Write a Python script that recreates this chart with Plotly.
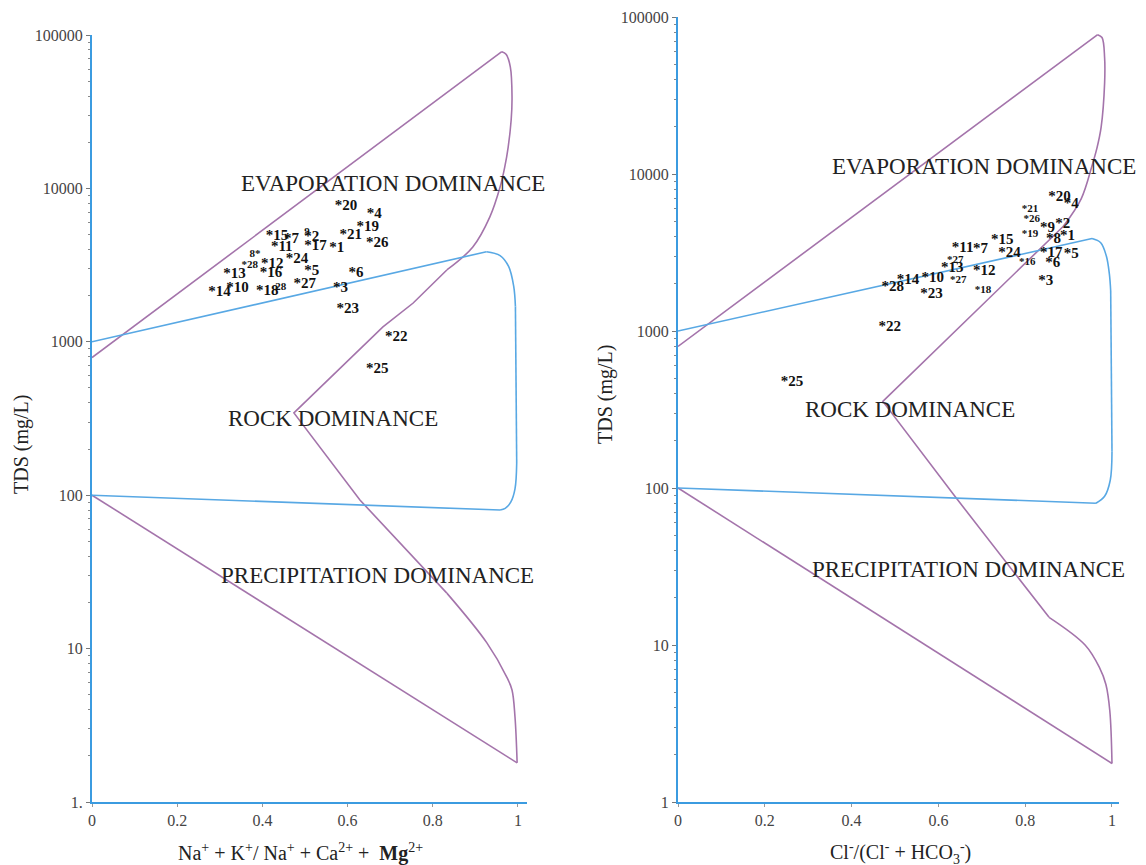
import plotly.graph_objects as go

# ---------------- data ----------------
# Left panel: Na+K/(Na+K+Ca) ratio vs TDS
left_labels = ["*20", "*4", "9", "*15", "*7", "*2", "*21", "*19", "*26", "*11", "8*", "*17", "*1",
               "*28", "*12", "*24", "*5", "*13", "*16", "*6", "*14", "*10", "*18", "28", "*27",
               "*3", "*23", "*22", "*25"]
left_x = [0.570, 0.645, 0.498, 0.408, 0.451, 0.498, 0.581, 0.621, 0.643, 0.420, 0.370, 0.498, 0.557,
          0.351, 0.397, 0.455, 0.498, 0.308, 0.394, 0.602, 0.273, 0.315, 0.385, 0.430, 0.473,
          0.566, 0.574, 0.688, 0.643]
left_tds = [7660, 6830, 5140, 4880, 4650, 4810, 4960, 5620, 4360, 4160, 3710, 4210, 4100,
            3140, 3190, 3440, 2890, 2750, 2790, 2780, 2090, 2240, 2140, 2260, 2380,
            2240, 1630, 1070, 660]
left_small = ["9", "8*", "*28", "28"]

# Right panel: Cl/(Cl+HCO3) vs TDS
right_labels = ["*20", "*4", "*21", "*26", "*19", "*9", "*2", "*8", "*1", "*17", "*5", "*6", "*3",
                "*15", "*11", "*7", "*27", "*13", "*12", "*27", "*10", "*14", "*28", "*24", "*16",
                "*18", "*23", "*22", "*25"]
right_x = [0.853, 0.889, 0.792, 0.796, 0.792, 0.834, 0.869, 0.848, 0.880, 0.834, 0.889, 0.846, 0.830,
           0.721, 0.631, 0.680, 0.620, 0.606, 0.680, 0.627, 0.561, 0.504, 0.469, 0.738, 0.786,
           0.684, 0.558, 0.462, 0.237]
right_tds = [7110, 6450, 5940, 5120, 4150, 4530, 4820, 3820, 4010, 3140, 3070, 2710, 2080,
             3790, 3380, 3340, 2820, 2500, 2400, 2100, 2180, 2100, 1910, 3110, 2740,
             1830, 1720, 1050, 469]
right_small_idx = [2, 3, 4, 16, 19, 24, 25]

# Gibbs boundary curves, split into straight and curved pieces
# left panel, purple
L_p_seg = [
    ([0.0, 0.962], [790, 77800], "linear"),
    ([0.962, 0.972, 0.982, 0.986, 0.984, 0.977, 0.969, 0.958, 0.934, 0.894, 0.833],
     [77800, 75000, 62000, 39400, 27900, 18600, 13800, 10200, 6520, 4150, 2940], "spline"),
    ([0.833, 0.754, 0.683, 0.474, 0.629, 0.833], [2940, 1790, 1250, 344, 93, 23], "linear"),
    ([0.833, 0.927, 0.974, 0.986, 0.993, 0.998], [23, 10.9, 6.5, 5.37, 3.58, 1.8], "spline"),
    ([0.998, 0.0], [1.8, 100], "linear"),
]
# left panel, blue
L_b_seg = [
    ([0.0, 0.926], [1000, 3865], "linear"),
    ([0.926, 0.958, 0.978, 0.990, 0.994], [3865, 3650, 3100, 2300, 1700], "spline"),
    ([0.994, 0.997], [1700, 162], "linear"),
    ([0.997, 0.993, 0.983, 0.970, 0.958], [162, 110, 90, 82, 80], "spline"),
    ([0.958, 0.0], [80, 100], "linear"),
]
# right panel, purple
R_p_seg = [
    ([0.0, 0.967], [798, 77200], "linear"),
    ([0.967, 0.977, 0.983, 0.983, 0.975, 0.965, 0.954, 0.929, 0.888],
     [77200, 74000, 55000, 37900, 19900, 14500, 11300, 6950, 4650], "spline"),
    ([0.888, 0.472, 0.638, 0.855], [4650, 356, 88.5, 15.0], "linear"),
    ([0.855, 0.938, 0.971, 0.986, 0.995, 1.0], [15.0, 10.0, 7.2, 5.6, 3.8, 1.76], "spline"),
    ([1.0, 0.0], [1.76, 100], "linear"),
]
# right panel, blue
R_b_seg = [
    ([0.0, 0.954], [1000, 3880], "linear"),
    ([0.954, 0.974, 0.987, 0.994, 0.997], [3880, 3650, 3000, 2300, 1800], "spline"),
    ([0.997, 1.0], [1800, 170], "linear"),
    ([1.0, 0.996, 0.983, 0.963], [170, 112, 88.5, 80], "spline"),
    ([0.963, 0.0], [80, 100], "linear"),
]

y_tickvals = [1, 10, 100, 1000, 10000, 100000]
left_y_ticktext = ["1.", "10", "100", "1000", "10000", "100000"]
right_y_ticktext = ["1", "10", "100", "1000", "10000", "100000"]
x_tickvals = [0, 0.2, 0.4, 0.6, 0.8, 1]
x_ticktext = ["0", "0.2", "0.4", "0.6", "0.8", "1"]

region_labels = ["EVAPORATION DOMINANCE", "ROCK DOMINANCE", "PRECIPITATION DOMINANCE"]

# ---------------- figure ----------------
PURPLE = "#a474ab"
BLUE = "#58a8e4"
AXIS_BLUE = "#3b9be0"
SERIF = "Liberation Serif"
W, H = 1146, 865
OFF = 8  # page body margin


def px(p):
    return (p - OFF) / W


def py(p):
    return 1 - (p - OFF) / H


fig = go.Figure()


def add_segments(segs, color, xa, ya):
    for xs, ys, shape in segs:
        line = dict(color=color, width=1.6, shape=shape)
        if shape == "spline":
            line["smoothing"] = 1.0
        fig.add_trace(go.Scatter(x=xs, y=ys, mode="lines", line=line,
                                 xaxis=xa, yaxis=ya, hoverinfo="skip", showlegend=False))


add_segments(L_p_seg, PURPLE, "x", "y")
add_segments(L_b_seg, BLUE, "x", "y")
add_segments(R_p_seg, PURPLE, "x2", "y2")
add_segments(R_b_seg, BLUE, "x2", "y2")

# sample labels
l_sizes = [11 if lab in left_small else 15 for lab in left_labels]
fig.add_trace(go.Scatter(x=left_x, y=left_tds, mode="text", text=left_labels,
                         textposition="middle right",
                         textfont=dict(family=SERIF, size=l_sizes, color="#111", weight="bold"),
                         xaxis="x", yaxis="y", showlegend=False))
r_sizes = [11 if i in right_small_idx else 15 for i in range(len(right_labels))]
fig.add_trace(go.Scatter(x=right_x, y=right_tds, mode="text", text=right_labels,
                         textposition="middle right",
                         textfont=dict(family=SERIF, size=r_sizes, color="#111", weight="bold"),
                         xaxis="x2", yaxis="y2", showlegend=False))


def xaxis_cfg(domain, rng):
    return dict(domain=domain, range=rng, tickvals=x_tickvals, ticktext=x_ticktext,
                showgrid=False, zeroline=False, showline=True, linecolor=AXIS_BLUE, linewidth=2,
                ticks="outside", ticklen=3, tickcolor="#999", automargin=False,
                tickfont=dict(family=SERIF, size=16, color="#444"))


def yaxis_cfg(domain, ticktext, anchor):
    return dict(domain=domain, type="log", range=[0, 5], tickvals=y_tickvals, ticktext=ticktext,
                showgrid=False, zeroline=False, showline=True, linecolor=AXIS_BLUE, linewidth=2,
                ticks="outside", ticklen=4, tickcolor="#777", anchor=anchor, automargin=False,
                minor=dict(tickvals=[m * 10 ** d for d in range(5) for m in range(2, 10)],
                           ticks="outside", ticklen=2, tickcolor="#888"),
                tickfont=dict(family=SERIF, size=16, color="#444"))


fig.update_layout(
    width=W, height=H,
    margin=dict(l=0, r=0, t=0, b=0, pad=0, autoexpand=False),
    paper_bgcolor="white", plot_bgcolor="white",
    showlegend=False,
    xaxis=xaxis_cfg([px(92), px(526.5)], [0, 1.02]) | dict(anchor="y"),
    yaxis=yaxis_cfg([py(802), py(35)], left_y_ticktext, "x"),
    xaxis2=xaxis_cfg([px(678), px(1118.5)], [0, 1.015]) | dict(anchor="y2"),
    yaxis2=yaxis_cfg([py(802), py(17)], right_y_ticktext, "x2"),
)


def ann(x, y, text, size, angle=0):
    fig.add_annotation(x=x, y=y, xref="paper", yref="paper", text=text, showarrow=False,
                       textangle=angle, xanchor="center", yanchor="middle",
                       font=dict(family=SERIF, size=size, color="#222"))


# region labels (pixel centres in the page)
for (cx, cy), lab in zip([(393, 183), (333, 418), (377, 575)], region_labels):
    ann(px(cx), py(cy), lab, 23)
for (cx, cy), lab in zip([(984, 167), (910, 409), (968, 569)], region_labels):
    ann(px(cx), py(cy), lab, 23)

# axis titles
ann(px(21), py(445), "TDS (mg/L)", 20, angle=-90)
ann(px(606), py(395), "TDS (mg/L)", 20, angle=-90)
ann(px(300), py(852),
    "Na<sup>+</sup> + K<sup>+</sup>/ Na<sup>+</sup> + Ca<sup>2+</sup> +  <b>Mg</b><sup>2+</sup>", 20)
ann(px(900), py(853), "Cl<sup>-</sup>/(Cl<sup>-</sup> + HCO<sub>3</sub><sup>-</sup>)", 20)

fig.write_html("out.html")
